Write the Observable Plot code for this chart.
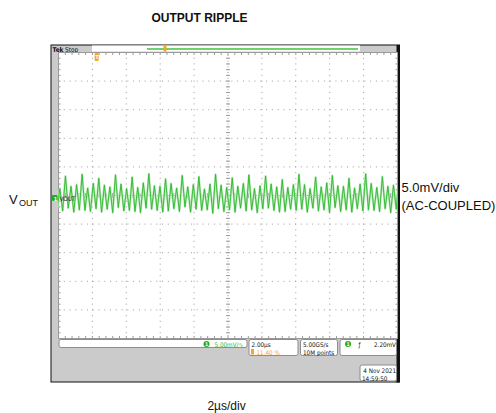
<!DOCTYPE html>
<html><head><meta charset="utf-8">
<script src="https://cdn.jsdelivr.net/npm/d3@7"></script>
<script src="https://cdn.jsdelivr.net/npm/@observablehq/plot@0.6"></script>
<style>html,body{margin:0;padding:0;background:#fff;}</style>
</head><body><div id="chart"></div>
<script>
// ---------- data ----------
const title = "OUTPUT RIPPLE";
const traceName = ["V", "OUT"];
const scaleLabels = ["5.0mV/div", "(AC-COUPLED)"];
const timeLabel = "2µs/div";
const mvPerDiv = 5;        // vertical scale
const usPerDiv = 2;        // horizontal scale
const hDivs = 10, vDivs = 10;
const triggerPct = 11.40;  // horizontal position (%)
const sampleStart = -0.082, sampleStep = 0.164; // µs, trace vertex timing
// ripple voltage at each vertex (mV), read from the screen
const rippleMV = [
  -2.4, 1.2, -2.7,
  3.4, -2.2, 1.6, -2.9, 1.9, -2.5,
  3.7, -2.6, 1.3, -2.8, 2.1, -2.3,
  3.0, -2.9, 1.8, -2.4, 1.5, -3.0,
  3.6, -2.1, 2.0, -2.7, 1.2, -2.6,
  3.2, -2.8, 1.4, -3.0, 2.2, -2.2,
  3.8, -2.4, 1.7, -2.6, 1.6, -2.9,
  2.9, -2.7, 2.1, -2.3, 1.3, -2.8,
  3.5, -2.0, 1.5, -2.9, 1.9, -2.4,
  3.3, -2.6, 1.1, -2.5, 2.0, -3.1,
  3.7, -2.3, 1.8, -2.8, 1.4, -2.5,
  3.1, -2.9, 1.6, -2.2, 2.1, -2.7,
  3.6, -2.5, 1.2, -3.0, 1.7, -2.3,
  3.4, -2.2, 2.0, -2.6, 1.5, -2.9,
  2.8, -2.8, 1.4, -2.4, 1.9, -2.6,
  3.7, -2.4, 1.9, -2.9, 1.2, -2.2,
  3.2, -2.7, 1.5, -2.5, 2.2, -3.0,
  3.5, -2.1, 1.7, -2.8, 1.6, -2.5,
  3.0, -2.9, 1.3, -2.3, 2.0, -2.7,
  3.8, -2.5, 2.1, -2.6, 1.4, -2.8,
  3.3, -2.3, 1.6, -3.0, 1.8, -2.4,
  3.6, -2.6, 1.2
];
const chanBadge = ["5.00mV/∿"];
const timeBadge = ["2.00µs", "11.40 %"];
const acqBadge = ["5.00GS/s", "10M points"];
const trigBadge = ["ƒ", "2.20mV"];
const dateBadge = ["4 Nov 2021", "14:59:50"];
const headerText = ["Tek", "Stop"];
const probeName = "VOUT";

// ---------- layout ----------
const W = 496, H = 413, L = 58, R = 397, T = 52, B = 338;
const xMax = hDivs * usPerDiv, yMax = vDivs / 2 * mvPerDiv;
const X = px => (px - L) / (R - L) * xMax;
const Y = py => yMax - (py - T) / (B - T) * 2 * yMax;
const sans = "Liberation Sans, Arial, sans-serif";
const scope = "'Liberation Sans Narrow','DejaVu Sans Condensed',sans-serif";
const box = (x1, x2, y1, y2, o = {}) => Plot.rect([0], {x1: X(x1), x2: X(x2), y1: Y(y1), y2: Y(y2), ...o});
const txt = (px, py, s, o = {}) => Plot.text([s], {x: X(px), y: Y(py), text: d => d, textAnchor: "start", lineAnchor: "bottom", fontFamily: sans, ...o});

const wave = rippleMV.map((v, i) => ({t: sampleStart + i * sampleStep, v}));
const trigT = triggerPct / 100 * xMax;
const majorX = d3.range(usPerDiv, xMax, usPerDiv).filter(d => Math.abs(d - xMax / 2) > 1e-6);
const majorY = d3.range(-yMax + mvPerDiv, yMax, mvPerDiv).filter(d => Math.abs(d) > 1e-6);
const minorX = d3.range(0, xMax + 1e-6, usPerDiv / 5);
const minorY = d3.range(-yMax, yMax + 1e-6, mvPerDiv / 5);
const tx = X(60) - X(58), ty = Y(52) - Y(54.5);
const grid = "#9a9a9a";
const st = 6.3;

const chart = Plot.plot({
  width: W, height: H,
  marginLeft: L, marginRight: W - R, marginTop: T, marginBottom: H - B,
  x: {domain: [0, xMax], axis: null},
  y: {domain: [-yMax, yMax], axis: null},
  style: {background: "transparent", overflow: "visible"},
  marks: [
    // scope bezel
    box(51, 399.5, 45, 382, {fill: "#cbcbcb", stroke: "#111", strokeWidth: 1}),
    box(396.5, 399.5, 45, 382.5, {fill: "#111"}),
    box(92, 360, 45.5, 51.5, {fill: "#fff"}),
    Plot.ruleY([Y(48.5)], {x1: X(147), x2: X(358), stroke: "#41c241", strokeWidth: 1.5}),
    box(163.5, 166.5, 45.5, 51.5, {fill: "#f5a623"}),
    txt(52, 51, headerText[0], {fontFamily: scope, fontSize: 6.5, fontWeight: "bold", fill: "#111"}),
    txt(64.5, 51, headerText[1], {fontFamily: scope, fontSize: 6.5, fill: "#111"}),
    // graticule
    Plot.frame({fill: "#fff", stroke: "#9a9a9a"}),
    Plot.ruleX(majorX, {stroke: grid, strokeDasharray: "1,4.72"}),
    Plot.ruleY(majorY, {stroke: grid, strokeDasharray: "1,4.78"}),
    Plot.ruleX([xMax / 2], {stroke: grid, strokeDasharray: "1,1.86"}),
    Plot.ruleY([0], {stroke: grid, strokeDasharray: "1,1.83"}),
    Plot.link(minorY, {x1: xMax / 2 - tx, x2: xMax / 2 + tx, y1: d => d, y2: d => d, stroke: grid}),
    Plot.link(minorX, {x1: d => d, x2: d => d, y1: -ty, y2: ty, stroke: grid}),
    Plot.link(minorX, {x1: d => d, x2: d => d, y1: yMax, y2: yMax - ty, stroke: grid}),
    Plot.link(minorX, {x1: d => d, x2: d => d, y1: -yMax, y2: -yMax + ty, stroke: grid}),
    Plot.link(minorY, {x1: 0, x2: tx, y1: d => d, y2: d => d, stroke: grid}),
    Plot.link(minorY, {x1: xMax, x2: xMax - tx, y1: d => d, y2: d => d, stroke: grid}),
    // trace
    Plot.line(wave, {x: "t", y: "v", stroke: "#b9e9b9", strokeWidth: 2.2, clip: true}),
    Plot.line(wave, {x: "t", y: "v", stroke: "#2cb82c", strokeWidth: 0.9, clip: true}),
    // trigger marker
    Plot.rect([trigT], {x1: d => d - X(60), x2: d => d + X(60), y1: Y(53), y2: Y(61), fill: "#f5a623", rx: 1}),
    Plot.text(["T"], {x: trigT, y: Y(57), text: d => d, fill: "#fff", fontSize: 5, fontWeight: "bold", fontFamily: scope}),
    // channel ground marker
    box(52, 57.5, 195, 201, {fill: "#22aa22", rx: 1}),
    txt(53.2, 200.3, "1", {fill: "#fff", fontSize: 5.5, fontFamily: scope, fontWeight: "bold"}),
    txt(59, 200.5, probeName, {fill: "#222", fontSize: 6.3, fontFamily: scope}),
    // status bar
    box(59, 247, 339.5, 347.5, {fill: "#fff", stroke: "#8c8c8c", rx: 2}),
    Plot.dot([0], {x: X(206), y: Y(343.5), r: 3, fill: "#22aa22"}),
    txt(204.6, 345.6, "1", {fill: "#fff", fontSize: 5, fontFamily: scope, fontWeight: "bold"}),
    txt(214, 346.5, chanBadge[0], {fill: "#36b336", fontSize: st, fontFamily: scope}),
    box(249, 298, 339.5, 355.5, {fill: "#fff", stroke: "#8c8c8c", rx: 2}),
    txt(251, 346.5, timeBadge[0], {fill: "#111", fontSize: st, fontFamily: scope}),
    box(251, 254, 349, 354.5, {fill: "#f5a623"}),
    txt(256, 354.5, timeBadge[1], {fill: "#f5a623", fontSize: st, fontFamily: scope}),
    box(300.5, 337.5, 339.5, 355.5, {fill: "#fff", stroke: "#8c8c8c", rx: 2}),
    txt(302.5, 346.5, acqBadge[0], {fill: "#111", fontSize: st, fontFamily: scope}),
    txt(302.5, 354.5, acqBadge[1], {fill: "#111", fontSize: st, fontFamily: scope}),
    box(340, 396.5, 339.5, 355.5, {fill: "#fff", stroke: "#8c8c8c", rx: 2}),
    Plot.dot([0], {x: X(347.5), y: Y(343.5), r: 3, fill: "#22aa22"}),
    txt(346.1, 345.6, "1", {fill: "#fff", fontSize: 5, fontFamily: scope, fontWeight: "bold"}),
    txt(358, 346.5, trigBadge[0], {fill: "#111", fontSize: st, fontFamily: scope}),
    txt(395.5, 346.5, trigBadge[1], {fill: "#111", fontSize: st, fontFamily: scope, textAnchor: "end"}),
    box(360, 396.5, 365, 381, {fill: "#fff", stroke: "#8c8c8c", rx: 2}),
    txt(395.5, 372.5, dateBadge[0], {fill: "#111", fontSize: st, fontFamily: scope, textAnchor: "end"}),
    txt(361.5, 380.5, dateBadge[1], {fill: "#111", fontSize: st, fontFamily: scope}),
    // annotations outside the screen
    txt(199, 21, title, {textAnchor: "middle", fontSize: 12, fontWeight: "bold", fill: "#111"}),
    txt(8.5, 203, traceName[0], {fontSize: 13, fill: "#111"}),
    txt(18.5, 205.5, traceName[1], {fontSize: 9, fill: "#111"}),
    txt(401, 191, scaleLabels[0], {fontSize: 13, fill: "#111"}),
    txt(401, 209, scaleLabels[1], {fontSize: 13, fill: "#111"}),
    txt(226, 409, timeLabel, {textAnchor: "middle", fontSize: 12, fill: "#111"})
  ]
});
document.getElementById("chart").append(chart);
</script>
</body></html>
